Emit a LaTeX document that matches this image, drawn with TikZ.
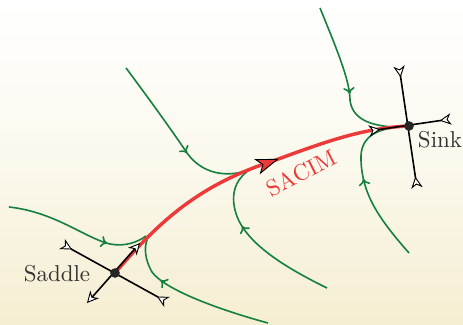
\documentclass[tikz,border=0pt]{standalone}
\usetikzlibrary{arrows.meta,decorations.markings}
\definecolor{flowgreen}{RGB}{22,128,62}
\definecolor{sacimred}{RGB}{236,58,58}
\definecolor{labelgray}{RGB}{50,50,50}
\definecolor{cream}{RGB}{245,238,210}
\tikzset{
  flowline/.style={flowgreen, line width=0.7pt, postaction={decorate},
    decoration={markings, mark=at position #1 with {\arrow{Computer Modern Rightarrow[length=2.8pt,width=5pt,line width=0.7pt]}}}},
  sacim/.style={sacimred, line width=1.5pt, postaction={decorate},
    decoration={markings, mark=at position #1 with {\arrow{Stealth[length=10pt,width=7pt,inset=2.5pt,fill=sacimred,color=black,line width=0.4pt]}}}},
  axtip/.style={},
  axisin/.style={black, line width=0.7pt, {Stealth[open,reversed,length=5pt,width=5pt,inset=1.5pt,fill=white,line width=0.4pt]}-{Stealth[open,reversed,length=5pt,width=5pt,inset=1.5pt,fill=white,line width=0.4pt]}},
  axisout/.style={black, line width=0.7pt, {Stealth[open,length=5pt,width=5pt,inset=1.5pt,fill=white,line width=0.4pt]}-{Stealth[open,length=5pt,width=5pt,inset=1.5pt,fill=white,line width=0.4pt]}},
  fixpt/.style={circle, fill=black!85, inner sep=0pt, minimum size=4.2pt},
  lbl/.style={text=labelgray, font=\normalsize},
}
\begin{document}
\begin{tikzpicture}[x=0.0153cm, y=-0.0153cm]
\useasboundingbox (0,0) rectangle (463,325);
\shade[top color=white, bottom color=cream, middle color=cream!40!white] (0,0) rectangle (463,325);

% fixed points
\coordinate (saddle) at (115,273);
\coordinate (sink) at (409,126);
% axis ends
\coordinate (sA) at (62,244);
\coordinate (sB) at (167,302);
\coordinate (uA) at (87,303);
\coordinate (uB) at (140,243);
\coordinate (kA) at (399,66);
\coordinate (kB) at (417,188);
\coordinate (kC) at (369,131);
\coordinate (kD) at (451,119);
% flow ends
\coordinate (g1s) at (9,207);
\coordinate (g1e) at (146,236);
\coordinate (g2s) at (268,323);
\coordinate (g2e) at (147,240);
\coordinate (g3s) at (126,68);
\coordinate (g3e) at (258,166);
\coordinate (g4s) at (327,288);
\coordinate (g4e) at (256,166);
\coordinate (g5s) at (320,8);
\coordinate (g5e) at (392,127);
\coordinate (g6s) at (409,253);
\coordinate (g6e) at (392,128);
\coordinate (mid) at (270,162);

% green trajectories
\draw[flowline=0.72] (g1s) .. controls (55,212) and (85,238) .. (110,244) .. controls (125,247) and (138,242) .. (g1e);
\draw[flowline=0.72] (g2s) .. controls (220,310) and (165,290) .. (152,272) .. controls (145,260) and (144,248) .. (g2e);
\draw[flowline=0.57] (g3s) .. controls (150,100) and (175,135) .. (187,153) .. controls (205,178) and (235,178) .. (g3e);
\draw[flowline=0.6] (g4s) .. controls (280,265) and (242,240) .. (235,210) .. controls (230,190) and (238,175) .. (g4e);
\draw[flowline=0.6] (g5s) .. controls (335,45) and (350,80) .. (350,100) .. controls (352,118) and (368,125) .. (g5e);
\draw[flowline=0.56] (g6s) .. controls (380,220) and (362,195) .. (361,160) .. controls (360,140) and (372,131) .. (g6e);

% SACIM
\draw[sacim=0.6] (saddle) .. controls (160,220) and (200,185) .. (mid) .. controls (320,144) and (360,128) .. (sink);

% axes
\draw[axisin] (sA) -- (sB);
\draw[axisout] (uA) -- (uB);
\draw[axisin] (kA) -- (kB);
\draw[axisin] (kC) -- (kD);

\node[fixpt] (saddledot) at (saddle) {};
\node[fixpt] (sinkdot) at (sink) {};

\node[lbl] (saddlelbl) at (57,274) {Saddle};
\node[lbl] (sinklbl) at (440,140) {Sink};
\node[text=sacimred, rotate=27, inner sep=1pt] (sacimlbl) at (301,173) {SACIM};
\end{tikzpicture}
\end{document}
